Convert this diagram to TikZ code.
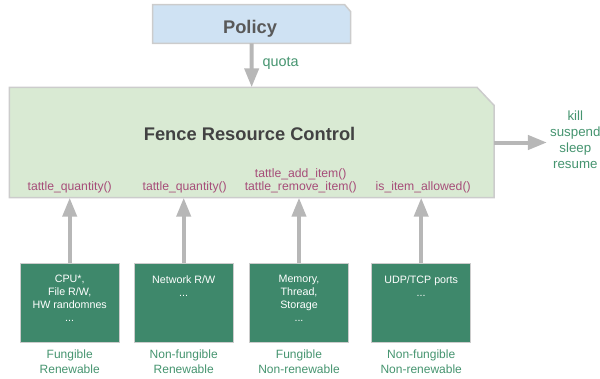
\documentclass[tikz,border=0pt]{standalone}
\usepackage{fontspec}
\setmainfont{Liberation Sans}
\usepackage{xcolor}
\usepackage{tikz}
\usetikzlibrary{arrows.meta,positioning}
\definecolor{policyblue}{HTML}{CFE2F3}
\definecolor{fencegreen}{HTML}{D9EAD3}
\definecolor{rimgray}{HTML}{CCCCCC}
\definecolor{arrowgray}{HTML}{B7B7B7}
\definecolor{resgreen}{HTML}{3E886B}
\definecolor{kindgreen}{HTML}{45946F}
\definecolor{callpurple}{HTML}{A64D79}
\tikzset{
  blankbox/.style = {rectangle, inner sep=0pt, outer sep=0pt},
  cutline/.style = {draw=rimgray, line width=1.5pt},% bord des boites a coin coupe
  resbox/.style = {blankbox, fill=resgreen, draw=rimgray, line width=1.4pt,
    minimum width=99pt, minimum height=79.4pt},
  restxt/.style = {inner sep=0pt, align=center, white,
    font=\fontsize{10.7}{13}\selectfont},
  functxt/.style = {inner sep=0pt, align=center, callpurple,
    font=\fontsize{12.2}{12.7}\selectfont},
  kindtxt/.style = {inner sep=0pt, align=center, kindgreen,
    font=\fontsize{12}{14.5}\selectfont},
  headtxt/.style = {inner sep=0pt, font=\fontsize{18.3}{22}\bfseries\selectfont},
  flow/.style = {arrowgray, line width=4pt,
    -{Triangle[length=19pt,width=14pt]}}
}
% coin haut droit coupe : noeud, couleur, coupe x, coupe y
\newcommand{\cutfill}[4]{%
  \filldraw[cutline, fill=#2] (#1.south west) -- (#1.north west)
    -- ([xshift=-#3]#1.north east) -- ([yshift=-#4]#1.north east)
    -- (#1.south east) -- cycle;}

\begin{document}
\begin{tikzpicture}[x=1pt,y=-1pt]
\useasboundingbox (0,0) rectangle (600,378);
% policy et controle
\node[blankbox, minimum width=198pt, minimum height=38.6pt] (policy) at (251.7,24) {};
\cutfill{policy}{policyblue}{6pt}{7pt}
\node[blankbox, minimum width=484.7pt, minimum height=110.4pt] (frc) at (251.65,142.5) {};
\cutfill{frc}{fencegreen}{17pt}{18pt}
\node[headtxt, anchor=base, text=black!65] (policytxt) at (250,33.3) {Policy};
\node[headtxt, anchor=base, text=black!74] (frctxt) at (249.6,140) {Fence Resource Control};

\draw[flow] (policy.south) -- node[pos=0.45, right=9pt, kindtxt,
  font=\fontsize{14.4}{16}\selectfont] (quota) {quota} (frc.north);

\node[kindtxt, anchor=north, font=\fontsize{13.3}{16}\selectfont] (acts) at (575.3,110.2)
  {kill\\suspend\\sleep\\resume};
\draw[flow, shorten >=3pt] (frc.east) -- (frc.east -| acts.west);

% ressources
\node[resbox] (res1) at (69.7,303) {};
\node[resbox] (res2) at (183.7,303) {};
\node[resbox] (res3) at (299,303) {};
\node[resbox] (res4) at (421.2,303) {};

\node[restxt, anchor=north] (res1txt) at ([yshift=-12pt]res1.north) {CPU*,\\File R/W,\\HW randomnes\\...};
\node[restxt, anchor=north] (res2txt) at ([yshift=-12pt]res2.north) {Network R/W\\...};
\node[restxt, anchor=north] (res3txt) at ([yshift=-12pt]res3.north) {Memory,\\Thread,\\Storage\\...};
\node[restxt, anchor=north] (res4txt) at ([yshift=-12pt]res4.north) {UDP/TCP ports\\...};

\node[kindtxt, below=7.3pt of res1] (kind1) {Fungible\\Renewable};
\node[kindtxt, below=7.3pt of res2] (kind2) {Non-fungible\\Renewable};
\node[kindtxt, below=7.3pt of res3] (kind3) {Fungible\\Non-renewable};
\node[kindtxt, below=7.3pt of res4] (kind4) {Non-fungible\\Non-renewable};

\draw[flow] (res1.north) -- (res1.north |- frc.south);
\draw[flow] (res2.north) -- (res2.north |- frc.south);
\draw[flow] (res3.north) -- (res3.north |- frc.south);
\draw[flow] (res4.north) -- (res4.north |- frc.south);

\node[functxt, anchor=south, yshift=4.7pt] (call1) at (res1 |- frc.south) {tattle\_quantity()};
\node[functxt, anchor=south, yshift=4.7pt, xshift=1pt] (call2) at (res2 |- frc.south) {tattle\_quantity()};
\node[functxt, anchor=south, yshift=4.7pt, xshift=1.7pt] (call3) at (res3 |- frc.south)
  {tattle\_add\_item()\\tattle\_remove\_item()};
\node[functxt, anchor=south, yshift=4.7pt, xshift=2pt] (call4) at (res4 |- frc.south) {is\_item\_allowed()};
\end{tikzpicture}
\end{document}
